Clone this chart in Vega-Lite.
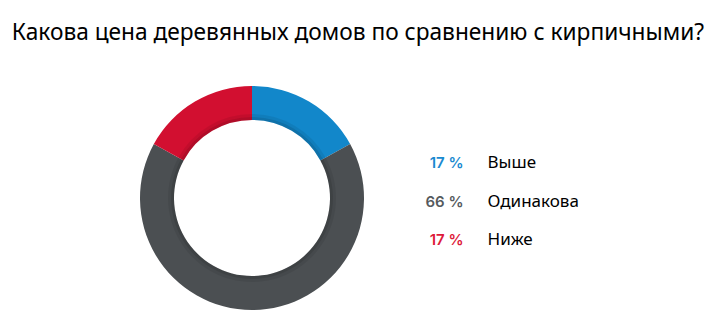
{
  "$schema": "https://vega.github.io/schema/vega-lite/v6.json",
  "background": "white",
  "padding": {"left": 11, "top": 22, "right": 5, "bottom": 5},
  "title": {
    "text": "Какова цена деревянных домов по сравнению с кирпичными?",
    "font": "Noto Sans",
    "fontSize": 22.7,
    "fontWeight": "normal",
    "color": "#000000",
    "anchor": "middle",
    "offset": 38
  },
  "config": {"view": {"stroke": null}},
  "data": {
    "values": [
      {"label": "Выше", "value": 17, "pct": "17 %", "order": 1},
      {"label": "Одинакова", "value": 66, "pct": "66 %", "order": 2},
      {"label": "Ниже", "value": 17, "pct": "17 %", "order": 3}
    ]
  },
  "spacing": 40,
  "hconcat": [
    {
      "width": 230,
      "height": 230,
      "layer": [
        {
          "mark": {"type": "arc", "radius": 112, "radius2": 78},
          "encoding": {
            "theta": {"field": "value", "type": "quantitative", "stack": true},
            "order": {"field": "order", "type": "ordinal"},
            "color": {
              "field": "label",
              "type": "nominal",
              "scale": {"domain": ["Выше", "Одинакова", "Ниже"], "range": ["#1287ca", "#4b4f52", "#d20f30"]},
              "legend": null
            }
          }
        },
        {
          "mark": {"type": "arc", "radius": 81, "radius2": 78, "color": "black", "opacity": 0.16},
          "encoding": {
            "theta": {"field": "value", "type": "quantitative", "stack": true},
            "order": {"field": "order", "type": "ordinal"}
          }
        },
        {
          "mark": {"type": "arc", "radius": 84, "radius2": 81, "color": "black", "opacity": 0.07},
          "encoding": {
            "theta": {"field": "value", "type": "quantitative", "stack": true},
            "order": {"field": "order", "type": "ordinal"}
          }
        }
      ]
    },
    {
      "width": 169,
      "height": 237,
      "encoding": {
        "y": {
          "field": "order",
          "type": "quantitative",
          "scale": {"domain": [-1.04, 5.04], "reverse": true, "zero": false, "nice": false},
          "axis": null
        }
      },
      "layer": [
        {
          "mark": {"type": "text", "align": "right", "baseline": "middle", "dx": -28, "font": "Inter", "fontSize": 15, "fontWeight": 600},
          "encoding": {
            "text": {"field": "pct"},
            "color": {
              "field": "label",
              "type": "nominal",
              "scale": {"domain": ["Выше", "Одинакова", "Ниже"], "range": ["#1a8ad0", "#555a5d", "#dd1a3a"]},
              "legend": null
            }
          }
        },
        {
          "mark": {"type": "text", "align": "left", "baseline": "middle", "dx": -4, "font": "Noto Sans", "fontSize": 17, "color": "#000000"},
          "encoding": {
            "text": {"field": "label"}
          }
        }
      ]
    }
  ],
  "resolve": {"scale": {"color": "independent"}}
}
